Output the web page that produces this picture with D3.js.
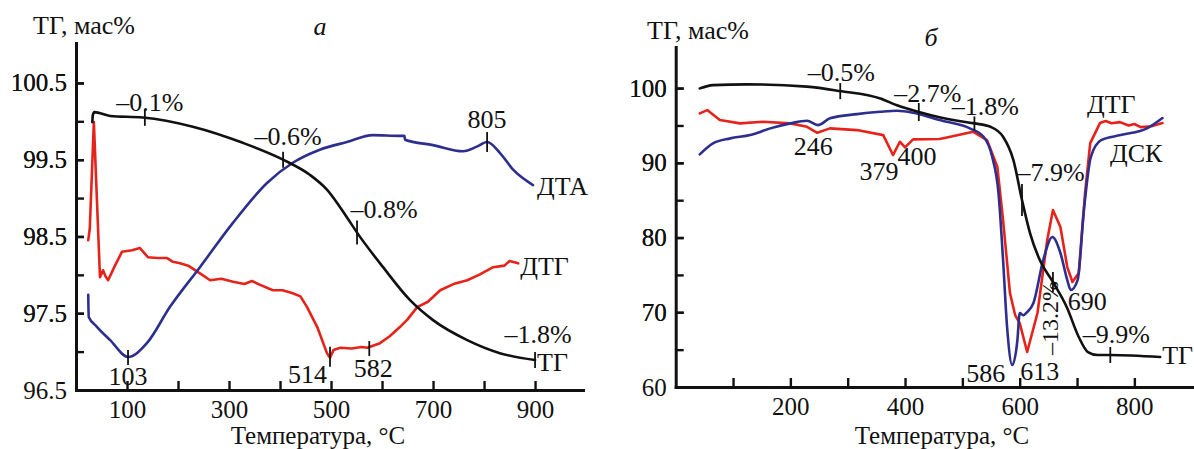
<!DOCTYPE html>
<html><head><meta charset="utf-8">
<script src="https://cdn.jsdelivr.net/npm/d3@7"></script>
<style>
html,body{margin:0;padding:0;background:#fff;}
svg{display:block;}
text{font-family:"Liberation Serif","Times New Roman",serif;fill:#111;}
</style></head><body>
<svg id="c" width="1194" height="449"></svg>
<script>
// ================= DATA =================
// Panel а
const tempTicksA  = [100,200,300,400,500,600,700,800,900];
const tempLabelsA = [100,300,500,700,900];
const yTicksA  = [97,97.5,98,98.5,99,99.5,100,100.5];
const yLabelsA = [96.5,97.5,98.5,99.5,100.5];

const tgA_T = [32,33,36,67,131,229,327,406,459,492,531,551,602,655,700,767,831,900];
const tgA_V = [99.99,100.08,100.12,100.07,100.05,99.93,99.72,99.50,99.30,99.11,98.75,98.55,98.10,97.67,97.41,97.15,96.98,96.89];

const dtaA_T = [24,25,40,67,102,139,184,243,308,375,425,478,531,582,635,644,645,700,759,786,806,831,857,896];
const dtaA_V = [97.74,97.45,97.33,97.15,96.93,97.11,97.58,98.10,98.68,99.20,99.46,99.63,99.73,99.82,99.81,99.81,99.76,99.69,99.61,99.67,99.73,99.59,99.37,99.17];

const dtgA_T = [24,27,35,47,53,58,63,75,90,110,125,141,160,178,190,204,220,243,263,285,308,330,345,361,386,405,425,440,453,473,492,498,505,518,540,560,571,596,615,635,650,669,690,714,740,767,790,818,840,850,867];
const dtgA_V = [98.45,98.6,99.99,97.97,98.06,97.98,97.93,98.1,98.30,98.32,98.35,98.23,98.22,98.22,98.17,98.15,98.12,98.02,97.93,97.95,97.91,97.88,97.92,97.87,97.80,97.80,97.76,97.72,97.58,97.32,96.98,96.92,97.02,97.05,97.04,97.06,97.05,97.11,97.2,97.32,97.42,97.58,97.65,97.80,97.88,97.93,98.0,98.10,98.12,98.18,98.15];

const tgMarksA_T    = [135,406,551,900];
const tgMarksA_Text = ["\u20130.1%","\u20130.6%","\u20130.8%","\u20131.8%"];
const dtaMarksA_T    = [102,806];
const dtaMarksA_Text = ["103","805"];
const dtgMarksA_T    = [498,575];
const dtgMarksA_Text = ["514","582"];
const namesA = ["ТГ","ДТА","ДТГ"];

// Panel б
const tempTicksB  = [100,200,300,400,500,600,700,800];
const tempLabelsB = [200,400,600,800];
const yTicksB  = [65,70,75,80,85,90,95,100];
const yLabelsB = [60,70,80,90,100];

const tgB_T = [42,65,124,229,287,357,386,424,460,484,521,549,571,589,604,618,635,658,682,703,719,736,758,845];
const tgB_V = [99.96,100.4,100.5,100.2,99.6,98.6,97.7,96.8,96.1,95.72,95.28,94.82,93.49,90.37,85.02,80.60,76.99,74.05,70.70,66.69,64.68,64.28,64.28,64.01];

const dtgB_T = [42,55,77,112,152,200,229,247,269,316,362,379,391,400,414,460,473,519,543,561,571,583,592,600,613,631,648,658,671,683,692,703,714,723,740,750,760,775,790,800,811,830,849];
const dtgB_V = [96.62,97.06,95.72,95.28,95.49,95.28,94.82,94.02,94.61,94.38,93.71,91.04,92.82,92.07,93.14,93.18,93.40,94.15,93.04,89.47,82.34,72.57,69.63,68.56,64.68,69.90,79.67,83.68,81.40,76.05,74.05,75.25,85.95,92.64,95.32,95.6,95.3,95.45,95.0,95.2,94.78,94.9,95.32];

const dskB_T = [42,65,95,130,165,200,229,248,269,316,357,386,414,460,473,513,537,552,563,571,578,587,596,600,606,613,624,641,657,671,683,689,701,712,724,742,776,823,849];
const dskB_V = [91.13,92.60,93.27,93.71,94.61,95.28,95.63,95.05,95.95,96.52,96.83,96.96,96.70,95.72,95.49,94.61,93.49,90.81,85.95,76.99,68.03,62.94,66.29,69.90,69.6,70.03,71.24,76.99,80.07,77.93,74.31,72.98,74.31,83.68,90.77,93.04,93.71,94.65,95.99];

const tgMarksB_T    = [287,424,521,604,658,758];
const tgMarksB_Text = ["\u20130.5%","\u20132.7%","\u20131.8%","\u20137.9%","\u201313.2%","\u20139.9%"];
const dtgMarksB_T    = [247,379,400,613];
const dtgMarksB_Text = ["246","379","400","613"];
const dskMarksB_T    = [587,689];
const dskMarksB_Text = ["586","690"];
const namesB = ["ТГ","ДТГ","ДСК"];

const axisTitleY = "ТГ, мас%";
const axisTitleX = "Температура, °C";
const panelLetters = ["а","б"];

// ================= LAYOUT / STYLE =================
const RED = "#e5231b", BLUE = "#2d2f8f", BLACK = "#111";
const ANN = 26;
const svg = d3.select("#c");

function series(T, V){ return T.map((t,i)=>({t:t, v:V[i]})); }
function interp(T, V, t){
  const i = d3.bisectLeft(T, t);
  if (i<=0) return V[0];
  if (i>=T.length) return V[V.length-1];
  const f = (t-T[i-1])/(T[i]-T[i-1]);
  return V[i-1] + f*(V[i]-V[i-1]);
}

function drawAxes(g, x, y, xTicks, xLabels, yTicks, yLabels, yFmt){
  const xa = d3.axisBottom(x).tickValues(xTicks).tickSize(-9).tickSizeOuter(0).tickPadding(10)
     .tickFormat(d => xLabels.includes(d) ? String(d) : "");
  const ya = d3.axisLeft(y).tickValues(yTicks.concat(yLabels)).tickSize(-8).tickSizeOuter(0).tickPadding(9)
     .tickFormat(d => yLabels.includes(d) ? yFmt(d) : "");
  const gx = g.append("g").attr("transform", `translate(0,${y.range()[0]})`).call(xa);
  const gy = g.append("g").attr("transform", `translate(${x.range()[0]},0)`).call(ya);
  [gx, gy].forEach(a => {
    a.select(".domain").attr("stroke", BLACK).attr("stroke-width", 3).attr("stroke-linecap","square");
    a.selectAll(".tick line").attr("stroke", BLACK).attr("stroke-width", 2.4);
    a.selectAll(".tick text").attr("font-family", '"Liberation Serif", serif').attr("font-size", 25).attr("fill", "#111");
  });
  gy.selectAll(".tick").filter(d => d === y.domain()[0]).select("line").remove();
}

function drawLine(g, x, y, data, color, curve){
  g.append("path").datum(data)
    .attr("fill","none").attr("stroke",color).attr("stroke-width",2.6)
    .attr("stroke-linejoin","round").attr("stroke-linecap","round")
    .attr("d", d3.line().x(d=>x(d.t)).y(d=>y(d.v)).curve(curve));
}

function markTick(g, x, y, T, V, t, up, down){
  const px = x(t), py = y(interp(T, V, t));
  g.append("line").attr("x1",px).attr("x2",px).attr("y1",py-up).attr("y2",py+down)
    .attr("stroke",BLACK).attr("stroke-width",1.8);
}
function label(g, px, py, txt, anchor, size, rot){
  const t = g.append("text").attr("x",px).attr("y",py).attr("text-anchor",anchor||"middle")
    .attr("font-size", size||ANN).text(txt);
  if (rot) t.attr("transform", `rotate(${rot},${px},${py})`);
  return t;
}

// ---------- Panel а ----------
{
  const g = svg.append("g");
  const x = d3.scaleLinear().domain([0, 994]).range([76, 583]);
  const y = d3.scaleLinear().domain([96.5, 101.02]).range([390, 43]);
  drawAxes(g, x, y, tempTicksA, tempLabelsA, yTicksA, yLabelsA, d3.format(".1f"));

  drawLine(g, x, y, series(dtgA_T, dtgA_V), RED, d3.curveLinear);
  drawLine(g, x, y, series(dtaA_T, dtaA_V), BLUE, d3.curveMonotoneX);
  drawLine(g, x, y, series(tgA_T, tgA_V), BLACK, d3.curveMonotoneX);

  const tgL = [[8,8,5,-7],[8,8,5,-15],[12,12,27,-15],[8,8,3,-17]];
  tgMarksA_T.forEach((t,i)=>{
    const [u,d,dx,dy] = tgL[i];
    markTick(g, x, y, tgA_T, tgA_V, t, u, d);
    label(g, x(t)+dx, y(interp(tgA_T,tgA_V,t))+dy, tgMarksA_Text[i]);
  });
  const dtaL = [[7,8,0,28,"middle"],[10,10,0,-14,"middle"]];
  dtaMarksA_T.forEach((t,i)=>{
    const [u,d,dx,dy,a] = dtaL[i];
    markTick(g, x, y, dtaA_T, dtaA_V, t, u, d);
    label(g, x(t)+dx, y(interp(dtaA_T,dtaA_V,t))+dy, dtaMarksA_Text[i], a);
  });
  const dtgL = [[11,9,-3,25,"end"],[6,9,4,30,"middle"]];
  dtgMarksA_T.forEach((t,i)=>{
    const [u,d,dx,dy,a] = dtgL[i];
    markTick(g, x, y, dtgA_T, dtgA_V, t, u, d);
    label(g, x(t)+dx, y(interp(dtgA_T,dtgA_V,t))+dy, dtgMarksA_Text[i], a);
  });
  const ends = [[tgA_T,tgA_V,2,11],[dtaA_T,dtaA_V,4,10],[dtgA_T,dtgA_V,2,12]];
  namesA.forEach((n,i)=>{
    const [T,V,dx,dy] = ends[i];
    label(g, x(T[T.length-1])+dx, y(V[V.length-1])+dy, n, "start", 26);
  });
  label(g, 33, 34, axisTitleY, "start", 26);
  label(g, 320, 35, panelLetters[0], "middle", 26).attr("font-style","italic");
  label(g, 318, 444, axisTitleX, "middle", 25);
}

// ---------- Panel б ----------
{
  const g = svg.append("g");
  const x = d3.scaleLinear().domain([0, 904]).range([675.7, 1194]);
  const y = d3.scaleLinear().domain([60, 105.5]).range([387, 47]);
  drawAxes(g, x, y, tempTicksB, tempLabelsB, yTicksB, yLabelsB, d3.format("d"));

  drawLine(g, x, y, series(dtgB_T, dtgB_V), RED, d3.curveLinear);
  drawLine(g, x, y, series(dskB_T, dskB_V), BLUE, d3.curveMonotoneX);
  drawLine(g, x, y, series(tgB_T, tgB_V), BLACK, d3.curveMonotoneX);

  const tgL = [[8,8,1,-10,0],[9,9,9,-10,0],[7,7,11,-8,0],[16,16,29,-19,0],[10,10,-3,36,-90],[8,8,6,-12,0]];
  tgMarksB_T.forEach((t,i)=>{
    const [u,d,dx,dy,rot] = tgL[i];
    markTick(g, x, y, tgB_T, tgB_V, t, u, d);
    const lb = label(g, x(t)+dx, y(interp(tgB_T,tgB_V,t))+dy, tgMarksB_Text[i], "middle", rot ? 24 : ANN, rot);
    if (rot) lb.attr("dominant-baseline","central");
  });
  const dtgL = [[-4,22,"middle"],[-14,25,"middle"],[12,18,"middle"],[-7,28,"start"]];
  dtgMarksB_T.forEach((t,i)=>{
    const [dx,dy,a] = dtgL[i];
    label(g, x(t)+dx, y(interp(dtgB_T,dtgB_V,t))+dy, dtgMarksB_Text[i], a);
  });
  const dskL = [[-7,17,"end"],[-3,20,"start"]];
  dskMarksB_T.forEach((t,i)=>{
    const [dx,dy,a] = dskL[i];
    label(g, x(t)+dx, y(interp(dskB_T,dskB_V,t))+dy, dskMarksB_Text[i], a);
  });
  label(g, x(tgB_T[tgB_T.length-1])+2, y(tgB_V[tgB_V.length-1])+7, namesB[0], "start", 26);
  label(g, 1087, 113, namesB[1], "start", 26);
  label(g, 1110, 162, namesB[2], "start", 26);
  label(g, 647, 39, axisTitleY, "start", 26);
  label(g, 931, 46, panelLetters[1], "middle", 26).attr("font-style","italic");
  label(g, 942, 444, axisTitleX, "middle", 25);
}
</script>
</body></html>
